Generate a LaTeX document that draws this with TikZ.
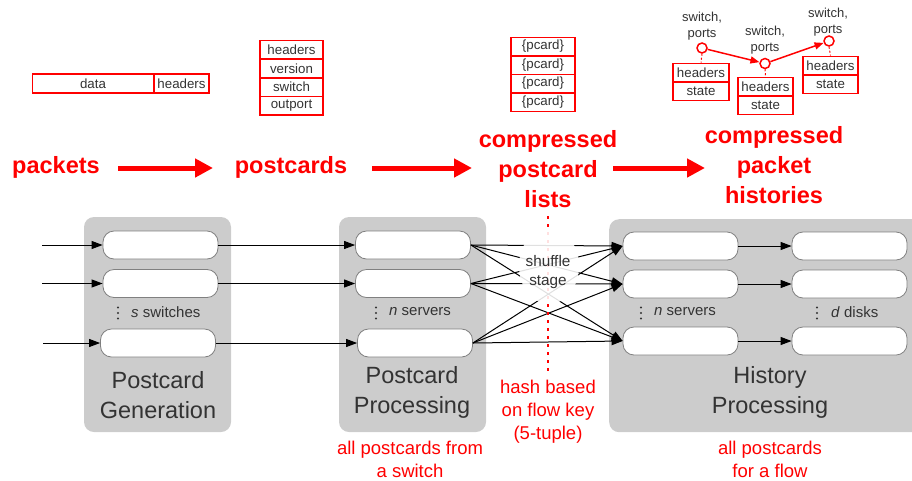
\documentclass[tikz,border=0pt]{standalone}
\usepackage{fontspec}
\setmainfont{Liberation Sans}
\usetikzlibrary{arrows.meta,shapes.geometric}
\definecolor{txtgray}{HTML}{333333}
\definecolor{boxgray}{HTML}{CCCCCC}
\definecolor{pillgray}{HTML}{808080}
\definecolor{rd}{HTML}{FF0000}
\begin{document}
\begin{tikzpicture}[x=1pt,y=-1pt,
  stage/.style={fill=boxgray, rounded corners=10pt, inner sep=0},
  pill/.style={draw=pillgray, line width=0.8pt, fill=white, rounded corners=11pt, minimum width=115pt, minimum height=28pt, inner sep=0},
  conn/.style={-{Triangle[length=11pt,width=8pt]}, line width=1pt},
  bigarrow/.style={rd, line width=5pt, -{Triangle[length=18pt,width=18pt]}},
  biglabel/.style={rd, font=\bfseries\fontsize{23.5}{30}\selectfont, align=center, inner sep=0},
  stagelabel/.style={txtgray, font=\fontsize{23.5}{30}\selectfont, align=center, inner sep=0},
  note/.style={rd, font=\fontsize{18.5}{23}\selectfont, align=center, inner sep=0},
  count/.style={txtgray, font=\fontsize{15}{18}\selectfont, inner sep=0, anchor=west},
  field/.style={draw=rd, line width=1.3pt, text=txtgray, font=\fontsize{13.3}{15}\selectfont, inner sep=0, minimum height=18.7pt},
  swlabel/.style={txtgray, font=\fontsize{13}{16}\selectfont, align=center, inner sep=0},
  hop/.style={circle, draw=rd, line width=1.5pt, fill=white, minimum size=10pt, inner sep=0},
  hoparrow/.style={rd, line width=1.5pt, -{Triangle[length=9pt,width=7pt]}},
  tick/.style={rd, line width=1pt, dash pattern=on 2pt off 2pt},
  dotmark/.style={fill=txtgray}
]
\useasboundingbox (0,0) rectangle (912,480);

% ---------- top: data structures ----------
\node[field, minimum width=121pt, minimum height=19pt] (data) at (93,83.5) {data};
\node[field, minimum width=55pt, minimum height=19pt] (hdr) at (181.5,83.5) {headers};

\node[field, minimum width=63pt] (pc1) at (291.5,49.5) {headers};
\node[field, minimum width=63pt] (pc2) at (291.5,68.5) {version};
\node[field, minimum width=63pt] (pc3) at (291.5,87) {switch};
\node[field, minimum width=63pt] (pc4) at (291.5,105.5) {outport};

\node[field, minimum width=64pt] (pl1) at (543,46.5) {\{pcard\}};
\node[field, minimum width=64pt] (pl2) at (543,65) {\{pcard\}};
\node[field, minimum width=64pt] (pl3) at (543,83.5) {\{pcard\}};
\node[field, minimum width=64pt] (pl4) at (543,102) {\{pcard\}};

\node[field, minimum width=56pt] (hb1a) at (701,72.5) {headers};
\node[field, minimum width=56pt] (hb1b) at (701,91) {state};
\node[field, minimum width=55pt] (hb2a) at (765.5,86.5) {headers};
\node[field, minimum width=55pt] (hb2b) at (765.5,105) {state};
\node[field, minimum width=55pt] (hb3a) at (830.5,65.5) {headers};
\node[field, minimum width=55pt] (hb3b) at (830.5,84) {state};

\node[hop] (c1) at (702,48) {};
\node[hop] (c2) at (765,63.5) {};
\node[hop] (c3) at (829,41) {};
\draw[tick] (c1.south) -- (hb1a.north);
\draw[tick] (c2.south) -- (hb2a.north);
\draw[tick] (c3.south) -- (hb3a.north);
\draw[hoparrow] (c1) -- (c2);
\draw[hoparrow] (c2) -- (c3);
\node[swlabel] (s1) at (702,26) {switch,\\ports};
\node[swlabel] (s2) at (765,40) {switch,\\ports};
\node[swlabel] (s3) at (828,22) {switch,\\ports};

% ---------- big labels ----------
\node[biglabel] (packets) at (56,167) {packets};
\node[biglabel] (postcards) at (291,167) {postcards};
\node[biglabel] (cpl) at (548,169) {compressed\\postcard\\lists};
\node[biglabel] (cph) at (774,165) {compressed\\packet\\histories};
\coordinate (a1s) at (118,168); \coordinate (a1e) at (213,168);
\coordinate (a2s) at (372,168); \coordinate (a2e) at (472,168);
\coordinate (a3s) at (613,168); \coordinate (a3e) at (705,168);
\draw[bigarrow] (a1s) -- (a1e);
\draw[bigarrow] (a2s) -- (a2e);
\draw[bigarrow] (a3s) -- (a3e);

% ---------- stages ----------
\node[stage, minimum width=147pt, minimum height=215pt] (genbox) at (157.5,324.5) {};
\node[stage, minimum width=147pt, minimum height=215pt] (procbox) at (412.5,324.5) {};
\node[stage, minimum width=330pt, minimum height=213pt, anchor=north west] (histbox) at (609,219) {};

\node[pill] (g1) at (160.5,245) {};
\node[pill] (g2) at (160.5,283.5) {};
\node[pill] (g3) at (158,343) {};
\node[pill] (p1) at (413,245) {};
\node[pill] (p2) at (413,283.5) {};
\node[pill] (p3) at (415,343) {};
\node[pill] (h1) at (680.5,246) {};
\node[pill] (h2) at (680.5,284) {};
\node[pill] (h3) at (680.5,341) {};
\node[pill] (d1) at (849.5,246) {};
\node[pill] (d2) at (849.5,284) {};
\node[pill] (d3) at (849.5,341) {};

\coordinate (i1) at (42,245);
\coordinate (i2) at (42,283.5);
\coordinate (i3) at (43,343);
\draw[conn] (i1) -- (g1.west);
\draw[conn] (i2) -- (g2.west);
\draw[conn] (i3) -- (g3.west);
\draw[conn] (g1.east) -- (p1.west);
\draw[conn] (g2.east) -- (p2.west);
\draw[conn] (g3.east) -- (p3.west);
\foreach \a in {1,2,3}{
  \foreach \b in {1,2,3}{
    \draw[conn] (p\a.east) -- (h\b.west);
  }
}
\draw[conn] (h1.east) -- (d1.west);
\draw[conn] (h2.east) -- (d2.west);
\draw[conn] (h3.east) -- (d3.west);

% hash line
\coordinate (hashtop) at (548,216);
\coordinate (hashbot) at (548,372);
\draw[rd, line width=2.5pt, dash pattern=on 3pt off 5pt] (hashtop) -- (hashbot);

% shuffle label
\node[ellipse, fill=white, fill opacity=0.88, minimum width=60pt, minimum height=76pt, inner sep=0] (blob) at (549,266) {};
\node[txtgray, font=\fontsize{15.3}{19}\selectfont, align=center, inner sep=0] (shuf) at (548,272) {shuffle\\stage};

% counts (vertical ellipses drawn as dots)
\foreach \x in {118,376,641,817}{
  \foreach \y in {307.5,313,318.5}{
    \fill[dotmark] (\x,\y) circle (1.1pt);
  }
}
\node[count] (gc) at (131,312) {\textit{s} switches};
\node[count] (pcnt) at (389,312) {\textit{n} servers};
\node[count] (hc) at (654,312) {\textit{n} servers};
\node[count] (dc) at (831,312) {\textit{d} disks};

\node[stagelabel] (genlabel) at (158,395) {Postcard\\Generation};
\node[stagelabel] (proclabel) at (412,392.5) {Postcard\\Processing};
\node[stagelabel] (histlabel) at (770,392.5) {History\\Processing};

\node[note] (hash) at (548,411.5) {hash based\\on flow key\\(5-tuple)};
\node[note] (allsw) at (410,459) {all postcards from\\a switch};
\node[note] (allfl) at (770,459) {all postcards\\for a flow};
\end{tikzpicture}
\end{document}
